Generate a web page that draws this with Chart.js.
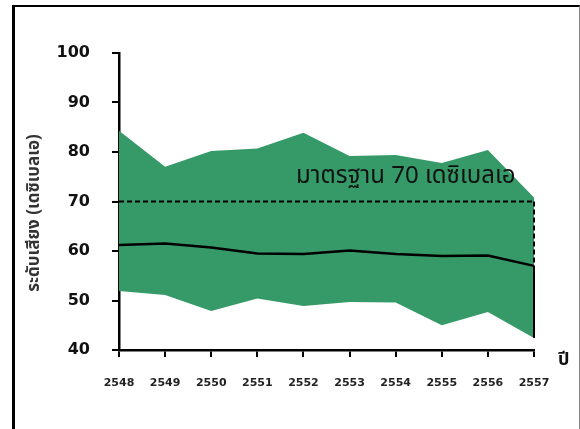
<!DOCTYPE html>
<html>
<head>
<meta charset="utf-8">
<script src="https://cdn.jsdelivr.net/npm/chart.js@4.4.1/dist/chart.umd.min.js"></script>
<style>
  html, body { margin: 0; padding: 0; background: #fff; }
  #wrap { position: relative; width: 580px; height: 429px; overflow: hidden; }
  #frame {
    position: absolute; left: 12px; top: 5px; width: 564px; height: 440px;
    border-left: 3px solid #000; border-top: 2px solid #000; border-right: 1px solid #888;
    pointer-events: none;
  }
  canvas { position: absolute; left: 0; top: 0; }
</style>
</head>
<body>
<div id="wrap">
  <canvas id="noiseChart" width="580" height="429"></canvas>
  <div id="frame"></div>
</div>
<script>
// Noise level by year (Thai Buddhist years)
const years = ["2548", "2549", "2550", "2551", "2552", "2553", "2554", "2555", "2556", "2557"];
const maxLevel = [84.3, 77.0, 80.2, 80.7, 83.9, 79.2, 79.4, 77.8, 80.4, 70.8];
const minLevel = [51.9, 51.1, 47.9, 50.4, 48.9, 49.7, 49.6, 45.0, 47.7, 42.4];
const avgLevel = [61.2, 61.5, 60.7, 59.5, 59.4, 60.1, 59.4, 59.0, 59.1, 57.0];
const standard = [70, 70, 70, 70, 70, 70, 70, 70, 70, 70];
const yTicks = [40, 50, 60, 70, 80, 90, 100];

const green = "#359a68";
const thaiFont = "Tahoma, 'Noto Sans Thai', 'Noto Sans', sans-serif";

// extra drawing: right edge of the band, standard label, axis titles
const extras = {
  id: "extras",
  afterDatasetsDraw(chart) {
    const { ctx, scales: { x, y } } = chart;
    const last = years.length - 1;
    const px = x.getPixelForValue(last);
    ctx.save();
    ctx.strokeStyle = "#000";
    ctx.lineWidth = 2;
    ctx.setLineDash([5, 3]);
    ctx.beginPath();
    ctx.moveTo(px, y.getPixelForValue(standard[last]));
    ctx.lineTo(px, y.getPixelForValue(avgLevel[last]));
    ctx.stroke();
    ctx.setLineDash([]);
    ctx.beginPath();
    ctx.moveTo(px, y.getPixelForValue(avgLevel[last]));
    ctx.lineTo(px, y.getPixelForValue(minLevel[last]));
    ctx.stroke();

    ctx.fillStyle = "#111";
    ctx.font = "24px " + thaiFont;
    ctx.textAlign = "left";
    ctx.textBaseline = "middle";
    ctx.fillText("มาตรฐาน 70 เดซิเบลเอ", 296, 178);

    ctx.font = "bold 18px " + thaiFont;
    ctx.fillText("ปี", 558, 361);

    // y axis title
    ctx.translate(36, 213);
    ctx.rotate(-Math.PI / 2);
    ctx.textAlign = "center";
    ctx.fillStyle = "#333";
    ctx.font = "bold 17px " + thaiFont;
    ctx.fillText("ระดับเสียง (เดซิเบลเอ)", 0, 0);
    ctx.restore();
  }
};

const ctx = document.getElementById("noiseChart").getContext("2d");
new Chart(ctx, {
  type: "line",
  data: {
    labels: years,
    datasets: [
      {
        label: "เฉลี่ย",
        data: avgLevel,
        borderColor: "#000",
        borderWidth: 2.5,
        pointRadius: 0,
        fill: false,
        order: 0,
      },
      {
        label: "มาตรฐาน",
        data: standard,
        borderColor: "#000",
        borderWidth: 2,
        borderDash: [5, 3],
        pointRadius: 0,
        fill: false,
        order: 1,
      },
      {
        label: "สูงสุด",
        data: maxLevel,
        borderWidth: 0,
        borderColor: green,
        backgroundColor: green,
        pointRadius: 0,
        fill: "+1",
        order: 3,
      },
      {
        label: "ต่ำสุด",
        data: minLevel,
        borderWidth: 0,
        borderColor: green,
        pointRadius: 0,
        fill: false,
        order: 2,
      },
    ],
  },
  options: {
    responsive: false,
    animation: false,
    layout: {
      padding: { top: 53, right: 46, bottom: 0, left: 0 },
    },
    plugins: {
      legend: { display: false },
      tooltip: { enabled: false },
    },
    scales: {
      x: {
        offset: false,
        afterFit(scale) { scale.height = 79; },
        grid: {
          drawOnChartArea: false,
          drawTicks: true,
          tickLength: 7,
          color: "#000",
          lineWidth: 2,
        },
        border: { display: true, color: "#000", width: 2.5 },
        ticks: {
          color: "#222",
          padding: 20,
          maxRotation: 0,
          font: { family: "'DejaVu Sans'", size: 11, weight: "bold" },
        },
      },
      y: {
        min: 40,
        max: 100,
        afterFit(scale) { scale.width = 119; },
        afterBuildTicks(scale) { scale.ticks = yTicks.map(v => ({ value: v })); },
        grid: {
          drawOnChartArea: false,
          drawTicks: true,
          tickLength: 7,
          color: "#000",
          lineWidth: 2,
        },
        border: { display: true, color: "#000", width: 2.5 },
        ticks: {
          color: "#111",
          padding: 22,
          font: { family: "'DejaVu Sans'", size: 16, weight: "bold" },
        },
      },
    },
  },
  plugins: [extras],
});
</script>
</body>
</html>
